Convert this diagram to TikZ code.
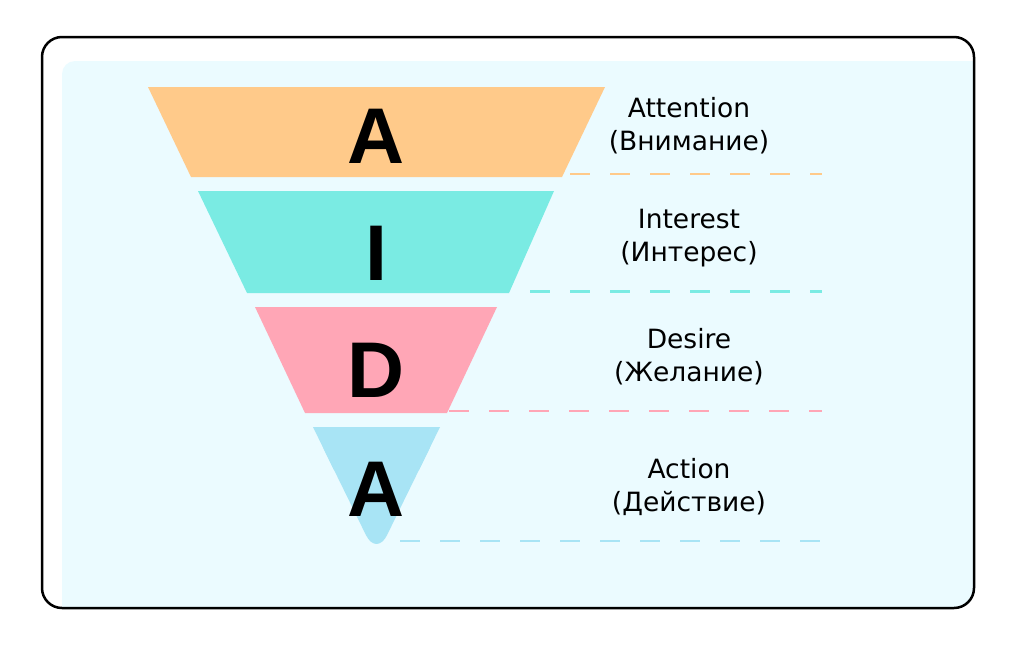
\documentclass[tikz,border=0pt]{standalone}
\usepackage{fontspec}
\setmainfont{DejaVu Sans}
\newfontfamily\letterfont{Liberation Sans}
\definecolor{panelbg}{HTML}{EBFBFF}
\definecolor{attcol}{HTML}{FFCA8A}
\definecolor{intcol}{HTML}{7AEBE3}
\definecolor{descol}{HTML}{FFA6B6}
\definecolor{actcol}{HTML}{A8E4F5}

\begin{document}
\begin{tikzpicture}[x=1pt, y=-1pt,
        letter/.style={font=\letterfont\bfseries\fontsize{79}{79}\selectfont, inner sep=0pt, anchor=base},
        stagetext/.style={font=\fontsize{26.5}{33}\selectfont, align=center, inner sep=0pt, anchor=base},
        guide/.style={line width=2.5pt, dash pattern=on 20pt off 20pt}]
    \useasboundingbox (0,0) rectangle (1024,648);

    % panel
    \begin{scope}
        \clip[rounded corners=20pt] (42,37) rectangle (974,608);
        \fill[panelbg, rounded corners=13pt] (62,61) rectangle (1000,640);
    \end{scope}
    \draw[line width=2.5pt, rounded corners=20pt] (42,37) rectangle (974,608);

    % funnel
    \fill[attcol] (148,87) -- (605,87) -- (562,177) -- (191,177) -- cycle;
    \fill[intcol] (198,191) -- (554,191) -- (509,293) -- (247,293) -- cycle;
    \fill[descol] (255,307) -- (497,307) -- (447,413) -- (305,413) -- cycle;
    % last one has a round tip
    \fill[actcol, rounded corners=24pt] (313,427) -- (440,427) -- (376.5,556.6) -- cycle;
    \fill[actcol] (313,427) -- (440,427) -- (419,470) -- (334,470) -- cycle;

    % letters, stage names and guides
    \foreach \n/\c/\l/\lb/\gx/\gy/\tb/\t in {
        att/attcol/A/163/570/174/150/{Attention\\(Внимание)},
        int/intcol/I/280/530/291.5/261.5/{Interest\\(Интерес)},
        des/descol/D/397/449/411/381.5/{Desire\\(Желание)},
        act/actcol/A/516/400/541/511.5/{Action\\(Действие)}} {
        \node[letter] (letter_\n) at (376.5,\lb) {\l};
        \node[stagetext] (stage_\n) at (689,\tb) {\t};
        \draw[guide, \c] (\gx,\gy) -- (822,\gy);
    }
\end{tikzpicture}
\end{document}
